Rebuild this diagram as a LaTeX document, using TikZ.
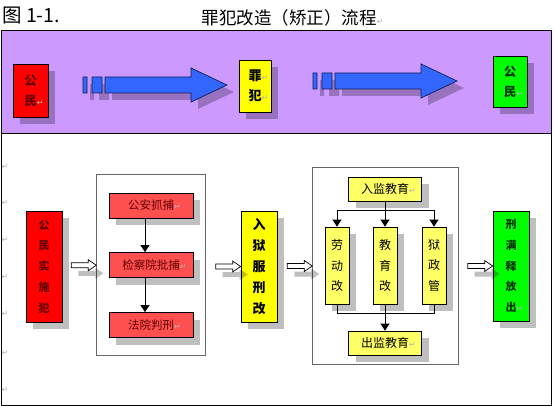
\documentclass[tikz,border=0pt]{standalone}
\usepackage{fontspec}
\setmainfont{Noto Sans CJK SC}
\newfontfamily\symfont{DejaVu Sans}
\usepackage{tikz}
\usetikzlibrary{
    positioning,
    arrows.meta,
    calc,
    fit,
    shadows
}
\definecolor{BandPurple}{HTML}{CC99FF}
\definecolor{BoxRed}{HTML}{FF0000}
\definecolor{StepRed}{HTML}{FF5050}
\definecolor{BoxYellow}{HTML}{FFFF00}
\definecolor{StepYellow}{HTML}{FFFF66}
\definecolor{BoxGreen}{HTML}{00FF00}
\definecolor{ArrowBlue}{HTML}{3366FF}
\definecolor{DarkRed}{HTML}{600000}
\definecolor{DarkGreen}{HTML}{003300}
\newcommand{\parmark}{\rlap{\textcolor{gray!60}{\mdseries\symfont\fontsize{8}{8}\selectfont ↵}}}
\newcommand{\fatarrowpath}{(0,-8) rectangle (4,8) (9,-8) rectangle (19,8)
    (22,-8) -- (108,-8) -- (108,-17) -- (144,0) -- (108,17) -- (108,8) -- (22,8) -- cycle}
\newcommand{\hollowpath}{(0,-2.5) -- (17,-2.5) -- (17,-5.5) -- (25,0) -- (17,5.5) -- (17,2.5) -- (0,2.5) -- cycle}
\tikzset{
    box/.style={
        rectangle,
        draw=black,
        line width=0.7pt,
        align=center,
        inner sep=0pt,
        drop shadow={shadow xshift=7pt,shadow yshift=-7pt,fill=black,opacity=.25},
    },
    person/.style={
        box,
        font=\bfseries\fontsize{12.5}{20}\selectfont,
    },
    stage/.style={
        box,
        minimum width=36pt,
        minimum height=111pt,
        font=\bfseries\fontsize{11}{20.8}\selectfont,
    },
    stepbox/.style={
        box,
        fill=StepRed,
        text=DarkRed,
        minimum width=84pt,
        minimum height=25pt,
        font=\fontsize{11.5}{14}\selectfont,
    },
    edubox/.style={
        box,
        fill=StepYellow,
        font=\fontsize{12}{20.5}\selectfont,
    },
    group/.style={
        rectangle,
        draw=gray!80!black,
        line width=0.8pt,
        inner xsep=12pt,
    },
    edge/.style={
        line width=0.8pt,
        -{Triangle[width=9pt,length=7pt]},
    },
    fatarrow/.pic={
        \fill[black,opacity=.25,shift={(7,7)}] \fatarrowpath;
        \draw[ArrowBlue!30!black,fill=ArrowBlue,line width=0.7pt] \fatarrowpath;
    },
    hollow/.pic={
        \fill[black,opacity=.25,shift={(7,8)}] \hollowpath;
        \draw[fill=white,line width=0.7pt] \hollowpath;
    },
    parnode/.style={inner sep=0pt,text=gray!60,font=\symfont\fontsize{8}{8}\selectfont},
}

\begin{document}
\begin{tikzpicture}[x=1pt,y=-1pt]
    \useasboundingbox (0,0) rectangle (554,406);

    % title line
    \node[anchor=west,inner sep=0pt,font=\fontsize{19.5}{19.5}\selectfont] (fig) at (2,16) {图 1-1.};
    \node[inner sep=0pt,font=\fontsize{17.5}{18}\selectfont] (title) at (289,18) {罪犯改造（矫正）流程\parmark};

    % frame
    \draw[line width=0.8pt,fill=BandPurple] (1,30) rectangle (551,133);
    \draw[line width=0.8pt] (1,133) rectangle (551,405);

    % upper band
    \node[person,fill=BoxRed,text=DarkRed,minimum width=35pt,minimum height=53pt] (citizen) at (30.5,90.5) {公\\民\parmark};
    \node[person,fill=BoxYellow,minimum width=32pt,minimum height=52pt,font=\bfseries\fontsize{13}{20}\selectfont] (convict) at (255,86) {罪\parmark\\犯\parmark};
    \node[person,fill=BoxGreen,text=DarkGreen,minimum width=34pt,minimum height=51pt] (freed) at (510,81.5) {公\\民\parmark};
    \pic at (83,85) {fatarrow};
    \pic at (313,81) {fatarrow};

    % lower part
    \node[stage,fill=BoxRed,text=DarkRed] (crime) at (44,266.5) {公\\民\\实\\施\\犯};

    \node[stepbox] (arrest) at (151,205.5) {公安抓捕\parmark};
    \node[stepbox] (approve) at (151,265) {检察院批捕\parmark};
    \node[stepbox] (trial) at (151,325) {法院判刑\parmark};
    \node[group,inner ysep=18pt,fit=(arrest) (trial)] (courts) {};

    \node[stage,fill=BoxYellow,font=\bfseries\fontsize{13}{20.8}\selectfont] (serve) at (259,266.5) {入\\狱\\服\\刑\\改};

    \node[edubox,minimum width=73pt,minimum height=24pt] (inedu) at (385,189) {入监教育\parmark};
    \node[edubox,minimum width=24pt,minimum height=77pt] (labour) at (337,265.5) {劳\\动\\改};
    \node[edubox,minimum width=24pt,minimum height=77pt] (educ) at (385,265.5) {教\\育\\改};
    \node[edubox,minimum width=24pt,minimum height=77pt] (prison) at (434,265.5) {狱\\政\\管};
    \node[edubox,minimum width=73pt,minimum height=24pt] (outedu) at (385,343) {出监教育\parmark};
    \node[group,inner ysep=9.5pt,fit=(inedu) (labour) (prison) (outedu)] (jail) {};

    \node[stage,fill=BoxGreen,text=DarkGreen,minimum height=110pt] (release) at (511,266) {刑\\满\\释\\放\\出\parmark};

    \coordinate (split) at (385,210);
    \coordinate (merge) at (385,313);

    \draw[edge] ([xshift=-6pt]arrest.south) -- ([xshift=-6pt]approve.north);
    \draw[edge] ([xshift=-6pt]approve.south) -- ([xshift=-6pt]trial.north);

    \draw[line width=0.8pt] (inedu.south) -- (split);
    \draw[edge] (split) -| (labour.north);
    \draw[edge] (split) -| (prison.north);
    \draw[edge] (split) -- (educ.north);
    \draw[line width=0.8pt] (labour.south) |- (merge);
    \draw[line width=0.8pt] (prison.south) |- (merge);
    \draw[edge] (educ.south) -- (outedu.north);

    \pic at ([xshift=-25pt]courts.west) {hollow};
    \pic at ([xshift=-25pt]serve.west) {hollow};
    \pic at ([xshift=-25pt]jail.west) {hollow};
    \pic at ([xshift=-25pt]release.west) {hollow};

    % paragraph marks in the margin
    \foreach \y [count=\i] in {167,203,240,277,314,353,390}
        \node[parnode] (pm\i) at (5,\y) {↵};
\end{tikzpicture}
\end{document}
